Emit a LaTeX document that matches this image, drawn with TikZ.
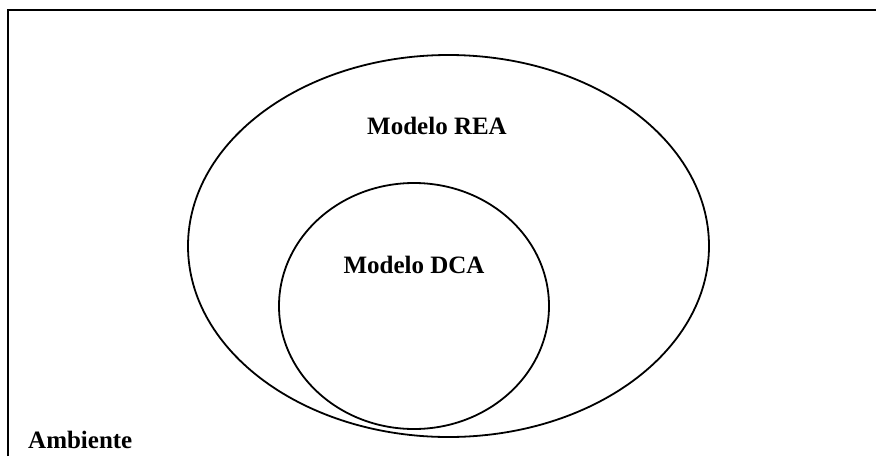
\documentclass[tikz,border=0pt]{standalone}
\usepackage{fontspec}
\setmainfont{Liberation Serif}
\usetikzlibrary{shapes.geometric}
\begin{document}
\begin{tikzpicture}[x=1pt,y=-1pt,
  frame/.style={line width=2.2pt},
  ring/.style={draw,ellipse,line width=1.8pt,inner sep=0pt},
  lbl/.style={font=\fontsize{25}{30}\selectfont\bfseries,inner sep=0pt}]
\useasboundingbox (0,0) rectangle (876,456);
% environment frame: left and top edges
\coordinate (fb) at (8,456);
\coordinate (ftl) at (8,10);
\coordinate (ftr) at (876,10);
\draw[frame] (fb) -- (ftl) -- (ftr);
% outer and inner models
\node[ring,minimum width=521pt,minimum height=382pt] (rea) at (448.5,246) {};
\node[ring,minimum width=270pt,minimum height=246pt] (dca) at (414,306) {};
\node[lbl] (trea) at (437,126) {Modelo REA};
\node[lbl] (tdca) at (414,265) {Modelo DCA};
\node[lbl,anchor=west] (tamb) at (28,440) {Ambiente};
\end{tikzpicture}
\end{document}
